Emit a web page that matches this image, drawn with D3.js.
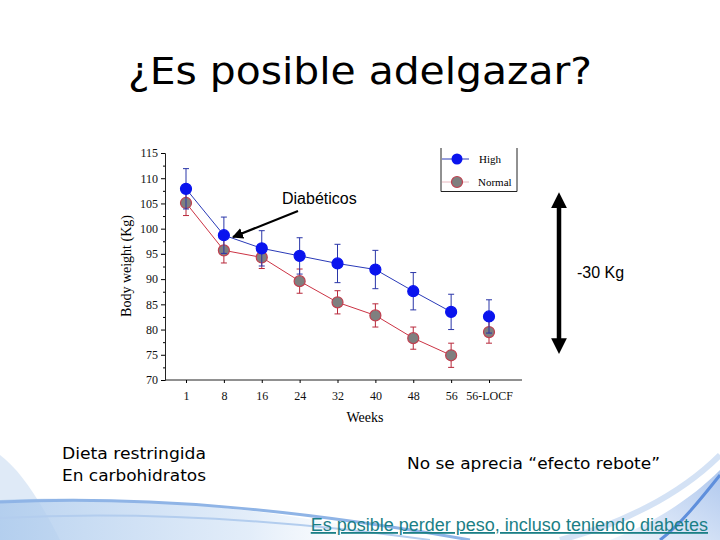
<!DOCTYPE html>
<html lang="es">
<head>
  <meta charset="UTF-8">
  <title>¿Es posible adelgazar?</title>
  <script src="https://d3js.org/d3.v7.min.js"></script>
  <style>
    body { margin: 0; background: #fff; }
  </style>
</head>
<body>
  <div id="viz"></div>

  <script>
    // Data
    const weeks = ['1', '8', '16', '24', '32', '40', '48', '56', '56-LOCF'];
    const highMean = [107.9, 98.7, 96.1, 94.6, 93.1, 91.9, 87.6, 83.5, 82.6];
    const highErr = [4.0, 3.6, 3.5, 3.6, 3.8, 3.8, 3.7, 3.5, 3.3];
    const normalMean = [105.1, 95.7, 94.3, 89.6, 85.4, 82.8, 78.3, 74.9, 79.5];
    const normalErr = [2.5, 2.5, 2.2, 2.4, 2.3, 2.3, 2.2, 2.4, 2.2];
    const yTicks = [70, 75, 80, 85, 90, 95, 100, 105, 110, 115];

    const W = 720, H = 540;
    const svg = d3.select('#viz').append('svg')
      .attr('width', W)
      .attr('height', H);

    // Background swooshes
    const defs = svg.append('defs');
    const g1 = defs.append('linearGradient').attr('id', 'sw1')
      .attr('x1', 0).attr('y1', 0).attr('x2', 1).attr('y2', 0);
    g1.append('stop').attr('offset', '0%').attr('stop-color', '#a9c8ec');
    g1.append('stop').attr('offset', '60%').attr('stop-color', '#dce9f8');
    g1.append('stop').attr('offset', '100%').attr('stop-color', '#ffffff').attr('stop-opacity', 0);
    const g2 = defs.append('linearGradient').attr('id', 'sw2')
      .attr('x1', 1).attr('y1', 0).attr('x2', 0).attr('y2', 1);
    g2.append('stop').attr('offset', '0%').attr('stop-color', '#6f9be0');
    g2.append('stop').attr('offset', '100%').attr('stop-color', '#e4eefa');

    const deco = svg.append('g');
    deco.append('path')
      .attr('d', 'M0,455 C20,470 40,500 60,540 L0,540 Z')
      .attr('fill', '#dfeaf7');
    deco.append('path')
      .attr('d', 'M0,500 C120,495 260,505 420,540 L0,540 Z')
      .attr('fill', 'url(#sw1)').attr('opacity', 0.8);
    deco.append('path')
      .attr('d', 'M0,502 C150,495 300,510 470,540')
      .attr('fill', 'none').attr('stroke', '#8fb4e6').attr('stroke-width', 3);
    deco.append('path')
      .attr('d', 'M0,518 C150,510 300,522 430,540')
      .attr('fill', 'none').attr('stroke', '#b3cdee').attr('stroke-width', 2);
    deco.append('path')
      .attr('d', 'M720,470 C690,500 650,525 610,540 L720,540 Z')
      .attr('fill', 'url(#sw2)').attr('opacity', 0.55);
    deco.append('path')
      .attr('d', 'M720,475 C700,500 680,525 660,540')
      .attr('fill', 'none').attr('stroke', '#5f8fdc').attr('stroke-width', 3);
    deco.append('path')
      .attr('d', 'M720,455 C680,495 620,525 560,540')
      .attr('fill', 'none').attr('stroke', '#c9dbf3').attr('stroke-width', 6).attr('opacity', 0.8);

    const comic = '"Comic Sans MS", "DejaVu Sans", sans-serif';

    // Title
    svg.append('text')
      .attr('x', 128).attr('y', 84)
      .attr('font-family', comic)
      .attr('font-size', 38)
      .attr('textLength', 464)
      .attr('lengthAdjust', 'spacingAndGlyphs')
      .text('¿Es posible adelgazar?');

    // Scales
    const x = d3.scalePoint().domain(weeks).range([186, 489]);
    const y = d3.scaleLinear().domain([70, 115]).range([380, 153]);

    const serif = '"Liberation Serif", "DejaVu Serif", serif';

    // Y axis
    const yAxis = svg.append('g')
      .attr('transform', 'translate(165,0)')
      .call(d3.axisLeft(y).tickValues(yTicks).tickSize(4).tickPadding(3));
    yAxis.selectAll('text').attr('font-family', serif).attr('font-size', 12).attr('fill', '#111');
    yAxis.select('.domain').attr('stroke', '#222');
    svg.append('g')
      .attr('transform', 'translate(165,0)')
      .call(d3.axisLeft(y).tickValues(d3.range(72.5, 115, 5)).tickSize(2).tickFormat(''))
      .select('.domain').remove();

    // X axis
    svg.append('line')
      .attr('x1', 165).attr('x2', 522)
      .attr('y1', 380).attr('y2', 380)
      .attr('stroke', '#222');
    const xAxis = svg.append('g')
      .attr('transform', 'translate(0,380)')
      .call(d3.axisBottom(x).tickSize(3).tickPadding(8));
    xAxis.select('.domain').remove();
    xAxis.selectAll('text').attr('font-family', serif).attr('font-size', 12).attr('fill', '#111');

    // Axis titles
    svg.append('text')
      .attr('transform', 'translate(131,266) rotate(-90)')
      .attr('text-anchor', 'middle')
      .attr('font-family', serif).attr('font-size', 14)
      .text('Body weight (Kg)');
    svg.append('text')
      .attr('x', 365).attr('y', 422)
      .attr('text-anchor', 'middle')
      .attr('font-family', serif).attr('font-size', 14)
      .text('Weeks');

    const lineGen = d3.line().x((d, i) => x(weeks[i])).y(d => y(d));

    function drawSeries(means, errs, lineColor, errColor, fill, stroke) {
      const data = means.map((m, i) => ({ w: weeks[i], m, e: errs[i] }));
      // connecting line (not to LOCF)
      svg.append('path')
        .datum(means.slice(0, 8))
        .attr('d', lineGen)
        .attr('fill', 'none')
        .attr('stroke', lineColor)
        .attr('stroke-width', 1);
      const eb = svg.append('g').selectAll('g').data(data).join('g');
      eb.append('line')
        .attr('x1', d => x(d.w)).attr('x2', d => x(d.w))
        .attr('y1', d => y(d.m - d.e)).attr('y2', d => y(d.m + d.e))
        .attr('stroke', errColor).attr('stroke-width', 1);
      eb.append('line')
        .attr('x1', d => x(d.w) - 3).attr('x2', d => x(d.w) + 3)
        .attr('y1', d => y(d.m + d.e)).attr('y2', d => y(d.m + d.e))
        .attr('stroke', errColor);
      eb.append('line')
        .attr('x1', d => x(d.w) - 3).attr('x2', d => x(d.w) + 3)
        .attr('y1', d => y(d.m - d.e)).attr('y2', d => y(d.m - d.e))
        .attr('stroke', errColor);
      svg.append('g').selectAll('circle').data(data).join('circle')
        .attr('cx', d => x(d.w)).attr('cy', d => y(d.m))
        .attr('r', 5.5)
        .attr('fill', fill)
        .attr('stroke', stroke)
        .attr('stroke-width', 1.2);
    }

    drawSeries(normalMean, normalErr, '#cc3344', '#b8283a', '#7f7f7f', '#c04050');
    drawSeries(highMean, highErr, '#2a3ab8', '#2a36a8', '#0a14ee', '#0a14ee');

    // Legend
    const lg = svg.append('g');
    lg.append('path')
      .attr('d', 'M441,148 V191.5 H517 V148')
      .attr('fill', 'none').attr('stroke', '#222');
    lg.append('line').attr('x1', 442).attr('x2', 469).attr('y1', 159).attr('y2', 159)
      .attr('stroke', '#2a3ab8');
    lg.append('circle').attr('cx', 457).attr('cy', 159).attr('r', 5.5).attr('fill', '#0a14ee');
    lg.append('line').attr('x1', 442).attr('x2', 469).attr('y1', 182).attr('y2', 182)
      .attr('stroke', '#e8b8bf');
    lg.append('circle').attr('cx', 457).attr('cy', 182).attr('r', 5.5)
      .attr('fill', '#7f7f7f').attr('stroke', '#c04050').attr('stroke-width', 1.2);
    lg.append('text').attr('x', 479).attr('y', 163)
      .attr('font-family', serif).attr('font-size', 11).text('High');
    lg.append('text').attr('x', 478).attr('y', 186)
      .attr('font-family', serif).attr('font-size', 11).text('Normal');

    // Annotations
    defs.append('marker')
      .attr('id', 'ah').attr('viewBox', '0 0 10 10')
      .attr('refX', 9).attr('refY', 5)
      .attr('markerWidth', 5).attr('markerHeight', 5)
      .attr('orient', 'auto-start-reverse')
      .append('path').attr('d', 'M0,0 L10,5 L0,10 Z').attr('fill', '#000');

    const sans = '"Liberation Sans", Arial, sans-serif';
    svg.append('text')
      .attr('x', 282).attr('y', 204)
      .attr('font-family', sans).attr('font-size', 16)
      .text('Diabéticos');
    svg.append('line')
      .attr('x1', 298).attr('y1', 211)
      .attr('x2', 233).attr('y2', 237)
      .attr('stroke', '#000').attr('stroke-width', 2.2)
      .attr('marker-end', 'url(#ah)');

    // -30 Kg double arrow
    defs.append('marker')
      .attr('id', 'ah2').attr('viewBox', '0 0 10 10')
      .attr('refX', 5).attr('refY', 5)
      .attr('markerWidth', 3.5).attr('markerHeight', 3.5)
      .attr('orient', 'auto-start-reverse')
      .append('path').attr('d', 'M0,0 L10,5 L0,10 Z').attr('fill', '#000');
    svg.append('line')
      .attr('x1', 559).attr('x2', 559)
      .attr('y1', 200).attr('y2', 346)
      .attr('stroke', '#000').attr('stroke-width', 4.5)
      .attr('marker-start', 'url(#ah2)')
      .attr('marker-end', 'url(#ah2)');
    svg.append('text')
      .attr('x', 577).attr('y', 278)
      .attr('font-family', sans).attr('font-size', 16)
      .text('-30 Kg');

    // Bottom notes
    svg.append('text')
      .attr('x', 62).attr('y', 459)
      .attr('font-family', comic).attr('font-size', 16)
      .attr('textLength', 144).attr('lengthAdjust', 'spacingAndGlyphs')
      .text('Dieta restringida');
    svg.append('text')
      .attr('x', 62).attr('y', 481)
      .attr('font-family', comic).attr('font-size', 16)
      .attr('textLength', 144).attr('lengthAdjust', 'spacingAndGlyphs')
      .text('En carbohidratos');
    svg.append('text')
      .attr('x', 407).attr('y', 469)
      .attr('font-family', comic).attr('font-size', 16)
      .attr('textLength', 253).attr('lengthAdjust', 'spacingAndGlyphs')
      .text('No se aprecia “efecto rebote”');
    svg.append('text')
      .attr('x', 708).attr('y', 531)
      .attr('text-anchor', 'end')
      .attr('font-family', sans).attr('font-size', 18)
      .attr('fill', '#1b7f86')
      .attr('text-decoration', 'underline')
      .text('Es posible perder peso, incluso teniendo diabetes');
  </script>
</body>
</html>
